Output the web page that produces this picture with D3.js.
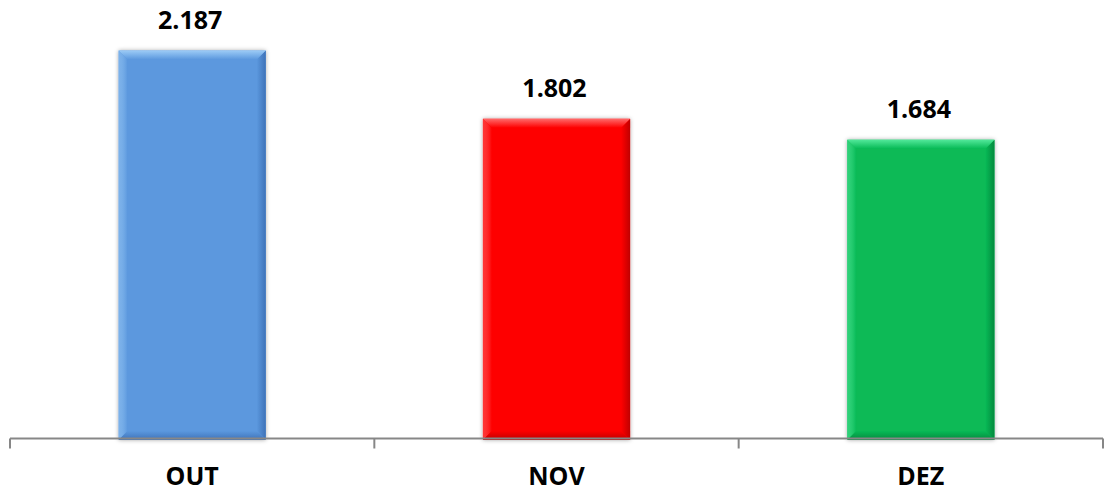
<!DOCTYPE html>
<html>
<head>
<meta charset="utf-8">
<script src="https://cdn.jsdelivr.net/npm/d3@7"></script>
<style>
  html, body { margin: 0; padding: 0; background: #fff; }
  svg { display: block; }
  text { font-family: "Open Sans", "DejaVu Sans", sans-serif; font-weight: 700; fill: #000; }
</style>
</head>
<body>
<svg id="chart" width="1105" height="493"></svg>
<script>
// Monthly totals
const months = ["OUT", "NOV", "DEZ"];
const totals = [2.187, 1.802, 1.684];
const valueLabels = ["2.187", "1.802", "1.684"];
const barColors = ["#5B98DE", "#FE0000", "#07BA56"];
const lightColors = ["#9CCBF6", "#FF6A6A", "#52E89A"];
const darkColors = ["#3E72B8", "#C00000", "#048A3E"];

const W = 1105, H = 493;
const axisLeft = 10, axisRight = 1103, baseY = 438.5;

const svg = d3.select("#chart");

const x = d3.scaleBand()
  .domain(months)
  .range([axisLeft, axisRight])
  .paddingInner(0.596)
  .paddingOuter(0.298);

const y = d3.scaleLinear()
  .domain([0, 2.5])
  .range([baseY, baseY - 177.4 * 2.5]);

const defs = svg.append("defs");
const shadow = defs.append("filter").attr("id", "shadow")
  .attr("x", "-10%").attr("y", "-10%").attr("width", "120%").attr("height", "120%");
shadow.append("feDropShadow")
  .attr("dx", 0).attr("dy", 0).attr("stdDeviation", 2)
  .attr("flood-color", "#000").attr("flood-opacity", 0.35);

// gradients for the bevelled faces
months.forEach((m, i) => {
  const mk = (id, x1, y1, x2, y2, c1, c2, o1, o2) => {
    const g = defs.append("linearGradient").attr("id", id)
      .attr("x1", x1).attr("y1", y1).attr("x2", x2).attr("y2", y2);
    g.append("stop").attr("offset", "0%").attr("stop-color", c1).attr("stop-opacity", o1);
    g.append("stop").attr("offset", "100%").attr("stop-color", c2).attr("stop-opacity", o2);
  };
  mk("top" + i, 0, 0, 0, 1, lightColors[i], barColors[i], 1, 1);
  mk("bot" + i, 0, 0, 0, 1, barColors[i], darkColors[i], 1, 1);
  mk("lft" + i, 0, 0, 1, 0, lightColors[i], barColors[i], 0.5, 1);
  mk("rgt" + i, 0, 0, 1, 0, barColors[i], darkColors[i], 1, 1);
});

const bevel = 9;
const bars = svg.append("g").selectAll("g")
  .data(months.map((m, i) => ({ m, v: totals[i], i })))
  .join("g");

bars.append("rect")
  .attr("x", d => x(d.m))
  .attr("y", d => y(d.v))
  .attr("width", x.bandwidth())
  .attr("height", d => y(0) - y(d.v) + 1.5)
  .attr("fill", d => barColors[d.i])
  .attr("filter", "url(#shadow)");

function face(d, which) {
  const x0 = x(d.m), x1 = x0 + x.bandwidth();
  const y0 = y(d.v), y1 = y(0) + 1.5;
  const b = bevel;
  const pts = {
    top: [[x0, y0], [x1, y0], [x1 - b, y0 + b], [x0 + b, y0 + b]],
    bot: [[x0 + b, y1 - b], [x1 - b, y1 - b], [x1, y1], [x0, y1]],
    lft: [[x0, y0], [x0 + b, y0 + b], [x0 + b, y1 - b], [x0, y1]],
    rgt: [[x1 - b, y0 + b], [x1, y0], [x1, y1], [x1 - b, y1 - b]]
  }[which];
  return "M" + pts.map(p => p.join(",")).join("L") + "Z";
}

["lft", "rgt", "bot", "top"].forEach(f => {
  bars.append("path")
    .attr("d", d => face(d, f))
    .attr("fill", d => `url(#${f}${d.i})`);
});

// value labels
bars.append("text")
  .attr("x", d => x(d.m) + x.bandwidth() / 2 - 2)
  .attr("y", d => y(d.v) - 22)
  .attr("text-anchor", "middle")
  .attr("font-size", 25)
  .text(d => valueLabels[d.i]);

// category axis
const axis = svg.append("g");
axis.append("line")
  .attr("x1", axisLeft).attr("x2", axisRight)
  .attr("y1", baseY).attr("y2", baseY)
  .attr("stroke", "#878787").attr("stroke-width", 2);

const tickXs = [0, 1, 2, 3].map(k => axisLeft + k * (axisRight - axisLeft) / months.length);
axis.selectAll("line.tick")
  .data(tickXs)
  .join("line")
  .attr("class", "tick")
  .attr("x1", d => d).attr("x2", d => d)
  .attr("y1", baseY).attr("y2", baseY + 10)
  .attr("stroke", "#878787").attr("stroke-width", 2);

axis.selectAll("text")
  .data(months)
  .join("text")
  .attr("x", d => x(d) + x.bandwidth() / 2)
  .attr("y", 485)
  .attr("text-anchor", "middle")
  .attr("font-size", 25)
  .text(d => d);
</script>
</body>
</html>
